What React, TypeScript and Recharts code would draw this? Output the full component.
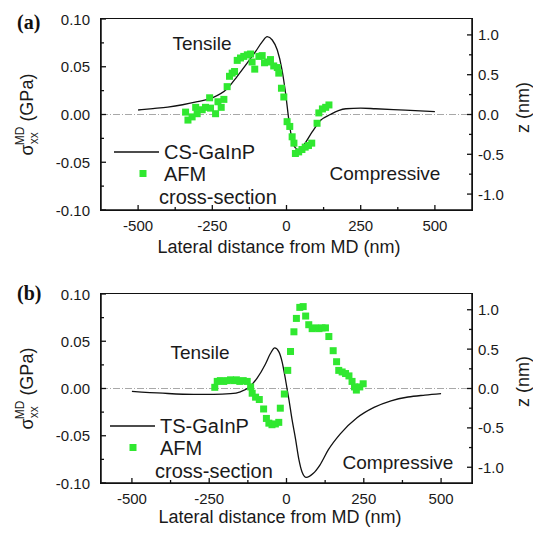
import React from 'react';
import { ComposedChart, Line, Scatter, XAxis, YAxis, ReferenceLine, Customized } from 'recharts';

const FONT = '"Liberation Sans", Arial, sans-serif';
const INK = '#111';
const GREEN = '#30e830';

// axis ticks: every tick gets a mark, only the majors get a label
const xTicks = [-500, -375, -250, -125, 0, 125, 250, 375, 500];
const xLabels = [-500, -250, 0, 250, 500];
const stressTicks = [-0.1, -0.075, -0.05, -0.025, 0, 0.025, 0.05, 0.075, 0.1];
const stressLabels = [-0.1, -0.05, 0, 0.05, 0.1];
const zTicks = [-1, -0.75, -0.5, -0.25, 0, 0.25, 0.5, 0.75, 1];
const zLabels = [-1, -0.5, 0, 0.5, 1];

// (a) CS-GaInP simulated stress (GPa) vs lateral distance (nm)
const aCurveNm = [-500, -450, -400, -350, -300, -250, -200, -166, -132, -104, -82, -65, -48, -31, -15, -3, 8, 19, 30, 41, 58, 87, 115, 148, 175, 200, 250, 300, 400, 500];
const aCurveGPa = [0.0047, 0.0062, 0.0078, 0.0102, 0.0134, 0.0175, 0.027, 0.04, 0.054, 0.066, 0.076, 0.0815, 0.078, 0.0675, 0.0466, 0.022, -0.006, -0.0267, -0.035, -0.037, -0.032, -0.018, -0.006, 0.0, 0.004, 0.006, 0.0067, 0.006, 0.0045, 0.003];
// (a) AFM cross-section height (nm)
const aAfmNm = [-340, -332, -318, -306, -301, -284, -273, -259, -256, -239, -231, -220, -211, -200, -192, -183, -175, -166, -155, -144, -132, -121, -116, -107, -93, -82, -74, -63, -54, -43, -31, -26, -17, -9, 2, 11, 19, 25, 30, 41, 52, 63, 74, 85, 103, 109, 121, 132, 143];
const aAfmZ = [0.03, -0.07, -0.03, 0.09, 0.01, 0.06, 0.09, 0.21, 0.08, 0.01, 0.16, 0.09, 0.19, 0.35, 0.48, 0.52, 0.54, 0.68, 0.71, 0.73, 0.75, 0.76, 0.66, 0.57, 0.73, 0.74, 0.65, 0.66, 0.69, 0.61, 0.59, 0.52, 0.33, 0.22, -0.09, -0.15, -0.28, -0.36, -0.49, -0.47, -0.44, -0.41, -0.39, -0.36, -0.11, 0.02, 0.07, 0.09, 0.12];

// (b) TS-GaInP simulated stress
const bCurveNm = [-500, -400, -300, -235, -181, -149, -122, -95, -68, -52, -38, -25, -14, -3, 8, 18, 29, 40, 50, 64, 86, 108, 135, 174, 228, 283, 338, 393, 448, 500];
const bCurveGPa = [-0.003, -0.005, -0.0062, -0.0062, -0.0055, -0.0035, 0.001, 0.011, 0.026, 0.037, 0.043, 0.039, 0.028, 0.009, -0.012, -0.033, -0.053, -0.075, -0.088, -0.094, -0.09, -0.081, -0.065, -0.048, -0.031, -0.02, -0.013, -0.009, -0.007, -0.0055];
// (b) AFM cross-section height
const bAfmNm = [-232, -224, -214, -203, -192, -181, -170, -162, -151, -140, -127, -116, -111, -100, -88, -74, -65, -57, -47, -36, -25, -20, -7, 4, 13, 24, 32, 43, 54, 62, 72, 83, 94, 105, 115, 126, 137, 151, 162, 169, 180, 191, 202, 212, 220, 226, 237, 248];
const bAfmZ = [0.015, 0.09, 0.1, 0.09, 0.1, 0.11, 0.1, 0.11, 0.09, 0.1, 0.09, 0.02, -0.06, -0.11, -0.14, -0.26, -0.38, -0.44, -0.46, -0.45, -0.43, -0.25, -0.07, 0.23, 0.47, 0.72, 0.89, 1.03, 1.04, 0.92, 0.81, 0.76, 0.77, 0.76, 0.77, 0.77, 0.66, 0.48, 0.34, 0.23, 0.21, 0.19, 0.16, 0.09, 0.02, -0.02, 0.02, 0.06];

const toPts = (xs: number[], ys: number[]) => xs.map((x, i) => ({ x, y: ys[i] }));
const has = (list: number[], v: number) => list.some((m) => Math.abs(m - v) < 1e-9);

const txt = { fontFamily: FONT, fill: '#1a1a1a' };

const BottomTick = (p: any) => {
  const major = has(xLabels, p.payload.value);
  return (
    <g>
      <line x1={p.x} x2={p.x} y1={p.y} y2={p.y - (major ? 5 : 3)} stroke="#111" strokeWidth={1.3} />
      {major && (
        <text x={p.x} y={p.y + 15} textAnchor="middle" dominantBaseline="central" fontSize={15} {...txt}>
          {p.payload.value}
        </text>
      )}
    </g>
  );
};

const LeftTick = (p: any) => {
  const major = has(stressLabels, p.payload.value);
  return (
    <g>
      <line x1={p.x} x2={p.x + (major ? 5 : 3)} y1={p.y} y2={p.y} stroke="#111" strokeWidth={1.3} />
      {major && (
        <text x={p.x - 11} y={p.y} textAnchor="end" dominantBaseline="central" fontSize={15} {...txt}>
          {p.payload.value.toFixed(2)}
        </text>
      )}
    </g>
  );
};

const RightTick = (p: any) => {
  const major = has(zLabels, p.payload.value);
  return (
    <g>
      <line x1={p.x} x2={p.x - (major ? 5 : 3)} y1={p.y} y2={p.y} stroke="#111" strokeWidth={1.3} />
      {major && (
        <text x={p.x + 6} y={p.y} textAnchor="start" dominantBaseline="central" fontSize={15} {...txt}>
          {p.payload.value.toFixed(1)}
        </text>
      )}
    </g>
  );
};

const Square = (p: any) => <rect x={p.cx - 3.5} y={p.cy - 3.5} width={7} height={7} fill={GREEN} />;

interface PanelProps {
  letter: string;
  name: string;
  curve: { x: number; y: number }[];
  afm: { x: number; y: number }[];
  xDomain: [number, number];
  top: number;
  height: number;
  plotTop: number;
  plotBottom: number;
  letterY: number;
  tensile: [number, number];
  compressive: [number, number];
  legendX: number;
  legendY: number;
  markerX: number;
  xTitle: [number, number];
}

const LEFT_W = 101;
const RIGHT_W = 61;
const PLOT_W = 533 - LEFT_W - RIGHT_W;

const Panel = (props: PanelProps) => {
  const { height, plotTop, plotBottom } = props;
  const midY = (plotTop + plotBottom) / 2;
  const lx = props.legendX;
  const ly = props.legendY;
  const labels = () => (
    <g>
      <text x={17} y={props.letterY} dominantBaseline="central" fontSize={20} fontWeight="bold" fontFamily='"Liberation Serif", "Times New Roman", serif' fill="#111">
        {props.letter}
      </text>
      <text x={props.tensile[0]} y={props.tensile[1]} textAnchor="middle" dominantBaseline="central" fontSize={19} {...txt}>Tensile</text>
      <text x={props.compressive[0]} y={props.compressive[1]} textAnchor="middle" dominantBaseline="central" fontSize={19} {...txt}>Compressive</text>
      <line x1={lx - 50} x2={lx - 5} y1={ly} y2={ly} stroke="#111" strokeWidth={1.3} />
      <text x={lx} y={ly} dominantBaseline="central" fontSize={20} {...txt}>{props.name}</text>
      <rect x={props.markerX - 3.5} y={ly + 21.5 - 3.5} width={7} height={7} fill={GREEN} />
      <text x={lx} y={ly + 21.5} dominantBaseline="central" fontSize={20} {...txt}>AFM</text>
      <text x={lx - 5} y={ly + 45} dominantBaseline="central" fontSize={20} {...txt}>cross-section</text>
      <text x={props.xTitle[0]} y={props.xTitle[1]} textAnchor="middle" dominantBaseline="central" fontSize={18} {...txt}>
        Lateral distance from MD (nm)
      </text>
      <text x={523} y={midY - 7} transform={`rotate(-90, 523, ${midY - 7})`} textAnchor="middle" dominantBaseline="central" fontSize={18} {...txt}>
        z (nm)
      </text>
      <text x={33} y={midY} transform={`rotate(-90, 33, ${midY})`} textAnchor="middle" fontSize={18} {...txt}>
        <tspan>σ</tspan>
        <tspan dy={5} fontSize={12}>xx</tspan>
        <tspan dx={-13} dy={-14} fontSize={12}>MD</tspan>
        <tspan dy={9}> (GPa)</tspan>
      </text>
    </g>
  );
  return (
    <div style={{ position: 'absolute', left: 0, top: props.top, width: 533, height }}>
      <ComposedChart width={533} height={height} margin={{ top: plotTop, right: 0, bottom: 0, left: 0 }}>
        <XAxis
          xAxisId="main"
          type="number"
          dataKey="x"
          domain={props.xDomain}
          ticks={xTicks}
          interval={0}
          height={height - plotBottom}
          tickSize={0}
          tickMargin={0}
          tickLine={false}
          tick={<BottomTick />}
          stroke="#111"
          axisLine={{ stroke: '#111', strokeWidth: 1.5 }}
        />
        <YAxis
          yAxisId="s"
          orientation="left"
          type="number"
          dataKey="y"
          domain={[-0.1, 0.1]}
          ticks={stressTicks}
          interval={0}
          width={LEFT_W}
          tickSize={0}
          tickMargin={0}
          tickLine={false}
          tick={<LeftTick />}
          stroke="#111"
          axisLine={{ stroke: '#111', strokeWidth: 1.5 }}
        />
        <YAxis
          yAxisId="z"
          orientation="right"
          type="number"
          dataKey="y"
          domain={[-1.2, 1.2]}
          ticks={zTicks}
          interval={0}
          width={RIGHT_W}
          tickSize={0}
          tickMargin={0}
          tickLine={false}
          tick={<RightTick />}
          stroke="#111"
          axisLine={{ stroke: '#111', strokeWidth: 1.5 }}
        />
        <ReferenceLine xAxisId="main" yAxisId="s" y={0} stroke="#a8a8a8" strokeWidth={1} strokeDasharray="7 2 1 2" />
        <Line xAxisId="main" yAxisId="s" data={props.curve} dataKey="y" type="monotone" stroke={INK} strokeWidth={1.3} dot={false} isAnimationActive={false} />
        <Scatter xAxisId="main" yAxisId="z" data={props.afm} dataKey="y" shape={Square} isAnimationActive={false} />
        <Customized component={labels} />
      </ComposedChart>
      {/* box frame around the plot area */}
      <div
        style={{
          position: 'absolute',
          left: LEFT_W - 1,
          top: plotTop - 1,
          width: PLOT_W,
          height: plotBottom - plotTop,
          border: '1.5px solid #111',
          pointerEvents: 'none',
        }}
      />
    </div>
  );
};

export default function App() {
  return (
    <div style={{ position: 'absolute', left: 0, top: 0, width: 533, height: 537 }}>
      <Panel
        letter="(a)"
        name="CS-GaInP"
        curve={toPts(aCurveNm, aCurveGPa)}
        afm={toPts(aAfmNm, aAfmZ)}
        xDomain={[-625, 625]}
        top={0}
        height={270}
        plotTop={19}
        plotBottom={210}
        letterY={22}
        tensile={[202, 43]}
        compressive={[385, 173]}
        legendX={164}
        legendY={152}
        markerX={143}
        xTitle={[279, 247]}
      />
      <Panel
        letter="(b)"
        name="TS-GaInP"
        curve={toPts(bCurveNm, bCurveGPa)}
        afm={toPts(bAfmNm, bAfmZ)}
        xDomain={[-600, 600]}
        top={270}
        height={267}
        plotTop={24}
        plotBottom={213}
        letterY={23}
        tensile={[200, 82]}
        compressive={[398, 192]}
        legendX={160}
        legendY={156}
        markerX={133}
        xTitle={[280, 247]}
      />
    </div>
  );
}
